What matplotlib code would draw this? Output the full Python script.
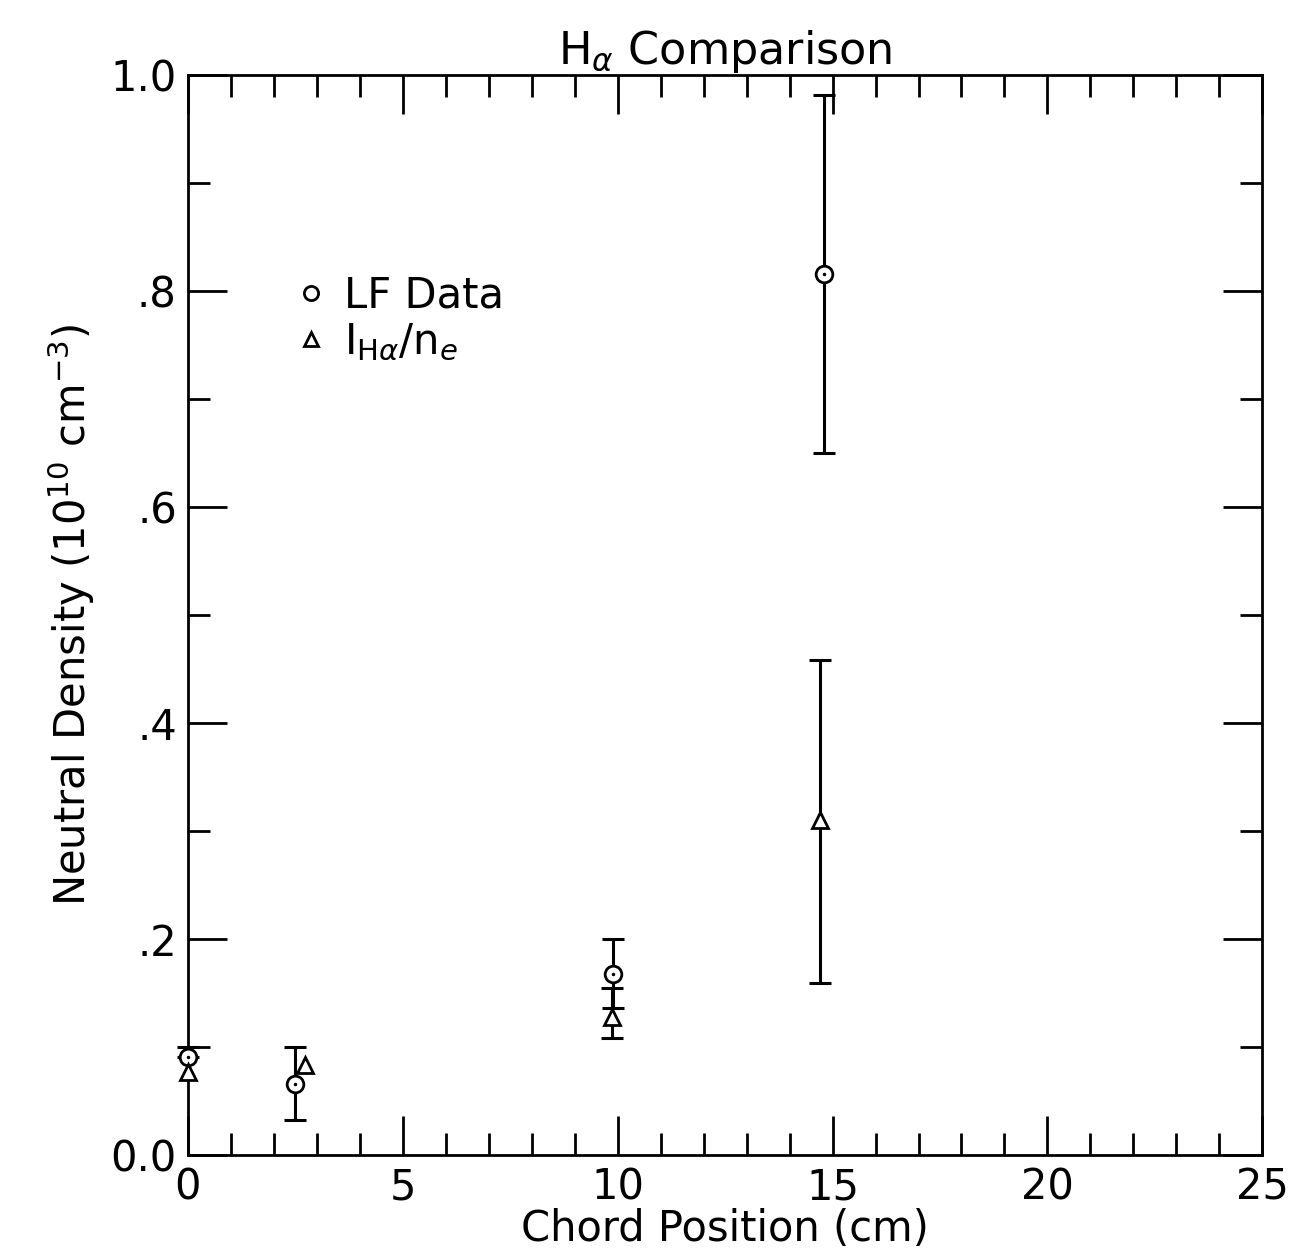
import numpy as np
import matplotlib
matplotlib.use('Agg')
import matplotlib.pyplot as plt

# LF data (circles)
lf_x = [0.0, 2.5, 9.9, 14.8]
lf_y = [0.091, 0.066, 0.168, 0.816]
lf_lo = [0.0, 0.034, 0.032, 0.166]
lf_hi = [0.009, 0.034, 0.032, 0.166]

# I_Ha / n_e (triangles)
ih_x = [0.0, 2.72, 9.87, 14.71]
ih_y = [0.077, 0.083, 0.128, 0.31]
ih_lo = [0.0, 0.0, 0.02, 0.151]
ih_hi = [0.0, 0.0, 0.027, 0.148]

plt.rcParams['font.family'] = 'DejaVu Sans'
fig = plt.figure(figsize=(12.96, 12.52), dpi=100)
ax = fig.add_axes([0.145, 0.0775, 0.829, 0.8625])

eb = ax.errorbar(lf_x, lf_y, yerr=[lf_lo, lf_hi], fmt='none', ecolor='black',
                 elinewidth=2.2, capsize=8, capthick=2.2, zorder=2)
for c in eb.get_children():
    c.set_clip_on(False)

# only the triangles that have an error bar
has_err = [i for i in range(len(ih_x)) if ih_lo[i] > 0 or ih_hi[i] > 0]
eb = ax.errorbar([ih_x[i] for i in has_err], [ih_y[i] for i in has_err],
                 yerr=[[ih_lo[i] for i in has_err], [ih_hi[i] for i in has_err]],
                 fmt='none', ecolor='black', elinewidth=2.2, capsize=8,
                 capthick=2.2, zorder=2)
for c in eb.get_children():
    c.set_clip_on(False)

ax.plot(lf_x, lf_y, 'o', ms=12, mfc='white', mec='black', mew=2, zorder=3,
        label='LF Data', clip_on=False)
ax.plot(lf_x, lf_y, '.', ms=3, color='black', zorder=4, clip_on=False)
ax.plot(ih_x, ih_y, '^', ms=12, mfc='white', mec='black', mew=2, zorder=3,
        label=r'I$_{\mathrm{H}\alpha}$/n$_e$', clip_on=False)

ax.set_xlim(0, 25)
ax.set_ylim(0, 1.0)
ax.set_xticks(np.arange(0, 26, 5))
ax.set_xticks(np.arange(0, 26, 1), minor=True)
ax.set_yticks(np.arange(0, 1.01, 0.2))
ax.set_yticks(np.arange(0, 1.01, 0.1), minor=True)
ax.set_yticklabels(['0.0', '.2', '.4', '.6', '.8', '1.0'])
ax.tick_params(which='both', direction='in', top=True, right=True,
               width=2, labelsize=30)
ax.tick_params(which='major', length=28, pad=8)
ax.tick_params(which='minor', length=16)
for s in ax.spines.values():
    s.set_linewidth(2)

ax.set_title(r'H$_\alpha$ Comparison', fontsize=32, pad=8)
ax.set_xlabel('Chord Position (cm)', fontsize=30, labelpad=0)
ax.set_ylabel(r'Neutral Density (10$^{10}$ cm$^{-3}$)', fontsize=30, labelpad=10)

ax.legend(loc='upper left', bbox_to_anchor=(0.06, 0.85), frameon=False,
          fontsize=30, handletextpad=0.3, labelspacing=0.1, handlelength=1,
          markerscale=0.85)

fig.savefig('out.png', dpi=100)
